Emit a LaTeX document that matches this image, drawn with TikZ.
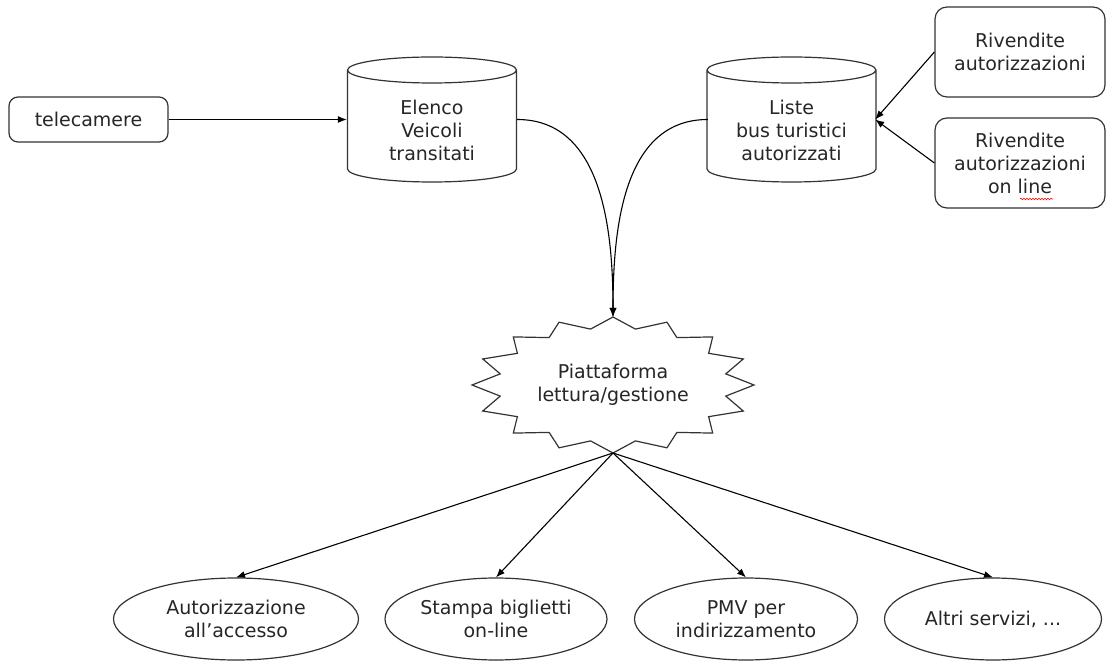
\documentclass[tikz,border=0pt]{standalone}
\usepackage{fontspec}
\setmainfont{DejaVu Sans}
\usepackage{tikz}
\usetikzlibrary{arrows.meta, shapes.geometric, shapes.misc, decorations.pathmorphing}

\begin{document}
\begin{tikzpicture}[x=1pt, y=1pt, >={Latex[length=9pt, width=7pt]},
    txt/.style={font=\fontsize{19}{23}\selectfont, align=center, text=black!85},
    box/.style={txt, draw=black!80, line width=1.2pt, rounded corners=9pt, inner sep=0pt},
    db/.style={minimum width=170, minimum height=99, inner sep=0pt},
    servizio/.style={txt, ellipse, draw=black!80, line width=1.2pt, minimum height=82, inner sep=0pt},
    link/.style={->, line width=1.1pt}]
  \useasboundingbox (0,0) rectangle (1106,662);

  \node[box, minimum width=159, minimum height=45] (tele) at (88.5,542.5) {telecamere};
  \node[db, label={[txt, yshift=-10.5pt]center:Elenco\\Veicoli\\transitati}] (elenco) at (432,542.5) {};
  \node[db, minimum width=167, label={[txt, yshift=-10.5pt]center:Liste\\bus turistici\\autorizzati}] (liste) at (791.5,542.5) {};
  \foreach \n in {elenco, liste}
    \draw[line width=1.2pt, draw=black!80, shift={(\n.center)}]
      (-84.5,49.5) -- (-84.5,-49.5) arc[start angle=180, end angle=360, x radius=84.5, y radius=13] -- (84.5,49.5)
      (0,49.5) ellipse[x radius=84.5, y radius=13];
  \node[box, minimum width=170, minimum height=90, rounded corners=12pt] (riv) at (1020,610) {Rivendite\\autorizzazioni};
  \node[box, minimum width=170, minimum height=90, rounded corners=12pt] (rivol) at (1020,499) {Rivendite\\autorizzazioni\\on line};
  \draw[red, line width=0.6pt, decorate, decoration={snake, amplitude=0.8pt, segment length=3pt}]
    (1020,463) -- (1053,463);

  \node[txt] (pf) at (613,277) {Piattaforma\\lettura/gestione};
  \draw[line width=1.2pt, draw=black!80, fill=white, shift={(pf.center)}]
    (90:141 and 68) \foreach \i in {0,...,15} { -- ({101.25+22.5*\i}:115 and 57) -- ({112.5+22.5*\i}:141 and 68) } -- cycle;
  \node[txt] at (pf) {Piattaforma\\lettura/gestione};
  \coordinate (pftop) at (613,345);
  \coordinate (pfbot) at (613,209);

  \node[servizio, minimum width=245] (acc) at (236,43) {Autorizzazione\\all’accesso};
  \node[servizio, minimum width=222] (stampa) at (496,43) {Stampa biglietti\\on-line};
  \node[servizio, minimum width=223] (pmv) at (746,43) {PMV per\\indirizzamento};
  \node[servizio, minimum width=217] (altri) at (993,43) {Altri servizi, ...};

  \draw[link] (tele.east) -- (elenco.west);
  \draw[link] (riv.west) -- (liste.east);
  \draw[link] (rivol.west) -- (liste.east);
  \draw[link] (elenco.east) to[out=0, in=90] (pftop);
  \draw[link] (liste.west) to[out=180, in=90] (pftop);
  \draw[link] (pfbot) -- (acc.north);
  \draw[link] (pfbot) -- (stampa.north);
  \draw[link] (pfbot) -- (pmv.north);
  \draw[link] (pfbot) -- (altri.north);
\end{tikzpicture}
\end{document}
